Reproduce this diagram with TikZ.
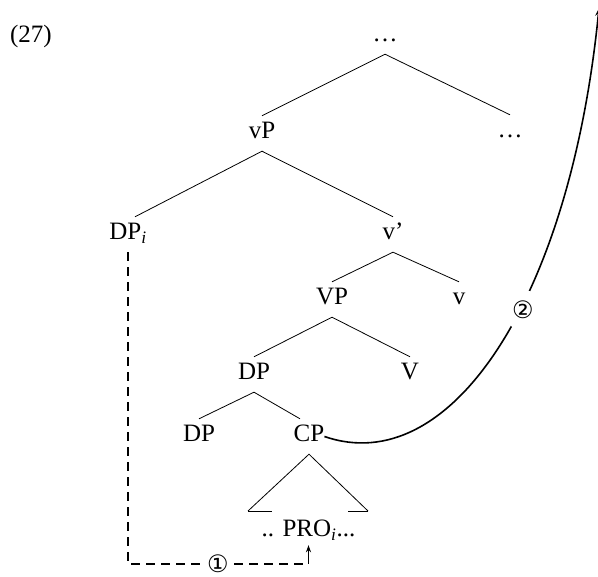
\documentclass[tikz,border=0pt]{standalone}
\usepackage{fontspec}
\setmainfont{Liberation Serif}
\newfontfamily\circfont{DejaVu Sans}
\usetikzlibrary{arrows.meta,calc}
\begin{document}
\begin{tikzpicture}[x=1pt,y=1pt,
  lab/.style={anchor=base,font=\fontsize{25}{30}\selectfont,inner xsep=0pt,inner ysep=6pt,text height=17pt,text depth=6pt},
  branch/.style={line width=0.8pt},
  dashpath/.style={line width=1.3pt,dash pattern=on 9pt off 6pt},
  circnum/.style={circle,inner sep=0pt,font=\circfont\fontsize{24}{28}\selectfont},
  movecurve/.style={line width=1.6pt}
]
\useasboundingbox (0,0) rectangle (598,-577);
\node[lab] (ex) at (31,-43) {(27)};
\node[lab] (top) at (385,-42) {\dots};
\node[lab] (vp) at (262,-139) {vP};
\node[lab] (dotsr) at (510,-138) {\dots};
\node[lab] (dpi) at (128,-240) {DP\textsubscript{\itshape i}};
\node[lab] (vbar) at (393,-240) {v’};
\node[lab] (vpp) at (332,-305) {VP};
\node[lab] (vsmall) at (459,-305) {v};
\node[lab] (dp) at (254,-380) {DP};
\node[lab] (vbig) at (410,-380) {V};
\node[lab] (dpl) at (199,-442) {DP};
\node[lab] (cp) at (309,-442) {CP};
\node[lab,text depth=2pt] (pro) at (308.5,-537) {.. PRO\textsubscript{\itshape i}...};
\node[circnum,minimum size=32pt] (one) at (218,-564) {①};
\coordinate (tl) at (248,-511);
\coordinate (tr) at (368,-511);
\coordinate (corner) at (pro.south |- one.center);
\coordinate (curveend) at (599,-8);
% tree branches
\draw[branch] (vp.north) -- (top.south) -- (dotsr.north);
\draw[branch] ($(dpi.north)+(7,0)$) -- (vp.south) -- (vbar.north);
\draw[branch] (vpp.north) -- (vbar.south) -- (vsmall.north);
\draw[branch] (dp.north) -- (vpp.south) -- (vbig.north);
\draw[branch] (dpl.north) -- (dp.south) -- ($(cp.north)+(-9,0)$);
% triangle
\draw[branch] (tl) -- (cp.south) -- (tr);
\draw[branch] (tl) -- ++(24,0);
\draw[branch] (tr) -- ++(-20,0);
% movement 1
\draw[dashpath] (dpi.south) |- (one);
\draw[dashpath] (one) -- (corner);
\draw[line width=1.2pt,-{Stealth[length=7pt,width=5pt]}] (corner) -- (pro.south);
% movement 2
\draw[movecurve,-{Stealth[length=8pt,width=6pt]}] (cp.east) .. controls (450,-480) and (570,-300) .. (curveend);
\node[circnum,fill=white,minimum size=40pt] (two) at (523,-310) {②};
\end{tikzpicture}
\end{document}
